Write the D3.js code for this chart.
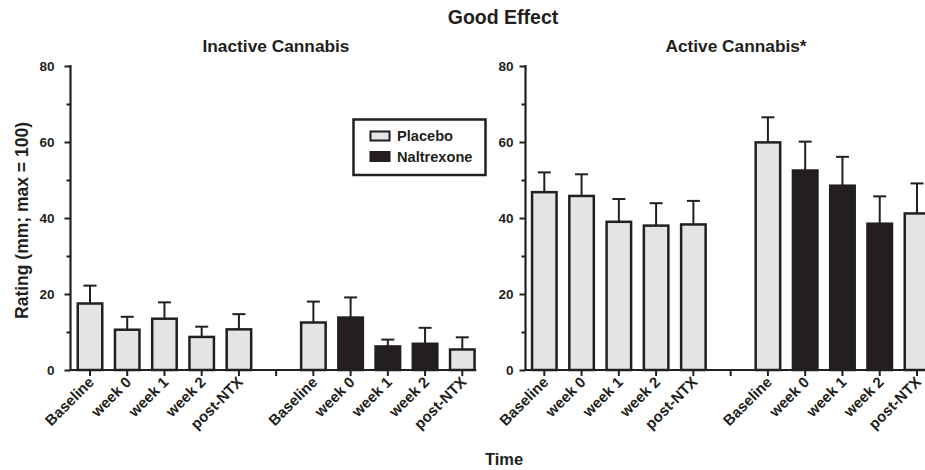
<!DOCTYPE html>
<html>
<head>
<meta charset="utf-8">
<script src="https://cdn.jsdelivr.net/npm/d3@7"></script>
<style>
  html, body { margin: 0; padding: 0; background: #fff; }
  svg { display: block; }
  text { font-family: "Liberation Sans", Arial, Helvetica, sans-serif; font-weight: bold; fill: #231f20; }
</style>
</head>
<body>
<svg id="chart" width="925" height="470"></svg>
<script>
// Time points within each arm
const timepoints = ["Baseline", "week 0", "week 1", "week 2", "post-NTX"];
// Condition of each bar in the naltrexone arm (placebo before/after dosing)
const ntxArmCondition = ["Placebo", "Naltrexone", "Naltrexone", "Naltrexone", "Placebo"];
const legendLabels = ["Placebo", "Naltrexone"];
const yTicks = [0, 20, 40, 60, 80];
const yMinorTicks = [10, 30, 50, 70];

// Inactive cannabis: mean ratings and SEM
const inactivePlaceboMean = [17.5, 10.6, 13.5, 8.7, 10.7];
const inactivePlaceboSem  = [4.7, 3.4, 4.3, 2.7, 4.0];
const inactiveNtxMean     = [12.5, 13.8, 6.2, 6.9, 5.4];
const inactiveNtxSem      = [5.5, 5.3, 1.8, 4.2, 3.2];

// Active cannabis: mean ratings and SEM
const activePlaceboMean = [46.8, 45.8, 39.0, 38.0, 38.3];
const activePlaceboSem  = [5.2, 5.7, 6.0, 5.9, 6.2];
const activeNtxMean     = [59.9, 52.5, 48.5, 38.5, 41.2];
const activeNtxSem      = [6.6, 7.6, 7.6, 7.2, 7.9];

const INK = "#231f20";
const GREY = "#e3e4e6";
const colour = d3.scaleOrdinal().domain(legendLabels).range([GREY, INK]);

const svg = d3.select("#chart");

// slot keys: placebo arm, an empty gap slot, naltrexone arm
const slots = timepoints.map((t, i) => "P" + i)
  .concat(["gap"])
  .concat(timepoints.map((t, i) => "N" + i));

function rows(pMean, pSem, nMean, nSem) {
  const a = timepoints.map((t, i) => ({ slot: "P" + i, label: t, mean: pMean[i], sem: pSem[i], cond: "Placebo" }));
  const b = timepoints.map((t, i) => ({ slot: "N" + i, label: t, mean: nMean[i], sem: nSem[i], cond: ntxArmCondition[i] }));
  return a.concat(b);
}

const panels = [
  { title: "Inactive Cannabis", titleX: 276, axisX: 70.5, range: [90, 462.3], labelPad: 10,
    data: rows(inactivePlaceboMean, inactivePlaceboSem, inactiveNtxMean, inactiveNtxSem) },
  { title: "Active Cannabis*", titleX: 736, axisX: 525.5, range: [544.3, 917], labelPad: 6,
    data: rows(activePlaceboMean, activePlaceboSem, activeNtxMean, activeNtxSem) }
];

const y = d3.scaleLinear().domain([0, 80]).range([370, 66]);
const barW = 24.5, capW = 13;

panels.forEach(p => {
  const x = d3.scalePoint().domain(slots).range(p.range);
  const g = svg.append("g");

  // panel title
  g.append("text").attr("x", p.titleX).attr("y", 51.5)
    .attr("text-anchor", "middle").style("font-size", "17.3px").text(p.title);

  // error bars (drawn first so the bar outline covers their base)
  const eb = g.append("g").attr("stroke", INK).attr("stroke-width", 2).attr("fill", "none");
  eb.selectAll("line.v").data(p.data).join("line").attr("class", "v")
    .attr("x1", d => x(d.slot)).attr("x2", d => x(d.slot))
    .attr("y1", d => y(d.mean)).attr("y2", d => y(d.mean + d.sem));
  eb.selectAll("line.c").data(p.data).join("line").attr("class", "c")
    .attr("x1", d => x(d.slot) - capW / 2).attr("x2", d => x(d.slot) + capW / 2)
    .attr("y1", d => y(d.mean + d.sem)).attr("y2", d => y(d.mean + d.sem));

  // bars
  g.append("g").selectAll("rect").data(p.data).join("rect")
    .attr("x", d => x(d.slot) - barW / 2).attr("width", barW)
    .attr("y", d => y(d.mean)).attr("height", d => y(0) - y(d.mean))
    .attr("fill", d => colour(d.cond)).attr("stroke", INK).attr("stroke-width", 2.5);

  // y axis: major ticks with labels, minor ticks without
  const yAxis = g.append("g").attr("transform", `translate(${p.axisX},0)`)
    .call(d3.axisLeft(y).tickValues(yTicks).tickSize(6).tickPadding(p.labelPad).tickSizeOuter(0))
    .attr("font-size", null).attr("font-family", null);
  g.append("g").attr("transform", `translate(${p.axisX},0)`)
    .call(d3.axisLeft(y).tickValues(yMinorTicks).tickSize(4).tickFormat(""))
    .call(a => a.select(".domain").remove());
  yAxis.select(".domain").attr("d", `M0,${y(0) + 1}V${y(80) - 1}`);
  svg.selectAll(".tick line").attr("stroke", INK).attr("stroke-width", 2);
  yAxis.selectAll("text").style("font-size", "13.5px").attr("fill", INK);
  yAxis.select(".domain").attr("stroke", INK).attr("stroke-width", 2.2);

  // x axis baseline and slot ticks
  const xa = g.append("g").attr("transform", `translate(0,${y(0)})`);
  xa.append("line").attr("x1", p.axisX - 1).attr("x2", p.range[1] + 14)
    .attr("stroke", INK).attr("stroke-width", 2.2);
  xa.selectAll("line.t").data(slots).join("line").attr("class", "t")
    .attr("x1", d => x(d)).attr("x2", d => x(d)).attr("y1", 0).attr("y2", 6)
    .attr("stroke", INK).attr("stroke-width", 2);
  xa.selectAll("text").data(p.data).join("text")
    .attr("text-anchor", "end")
    .attr("transform", d => `translate(${x(d.slot) + 5},${13}) rotate(-45)`)
    .style("font-size", "15px").text(d => d.label);
});

// figure title and shared axis titles
svg.append("text").attr("x", 503).attr("y", 24).attr("text-anchor", "middle")
  .style("font-size", "19.5px").text("Good Effect");
svg.append("text").attr("x", 504).attr("y", 465).attr("text-anchor", "middle")
  .style("font-size", "16.5px").text("Time");
svg.append("text").attr("transform", "translate(27.5,220.5) rotate(-90)")
  .attr("text-anchor", "middle").style("font-size", "17.5px").text("Rating (mm; max = 100)");

// legend
const lg = svg.append("g");
lg.append("rect").attr("x", 353.5).attr("y", 119.5).attr("width", 132).attr("height", 55.5)
  .attr("fill", "#fff").attr("stroke", INK).attr("stroke-width", 2.5);
legendLabels.forEach((name, i) => {
  const yy = 131.5 + i * 20.5;
  lg.append("rect").attr("x", 370.5).attr("y", yy).attr("width", 19).attr("height", 9)
    .attr("fill", colour(name)).attr("stroke", INK).attr("stroke-width", 2);
  lg.append("text").attr("x", 397).attr("y", yy + 9.5).style("font-size", "14.6px").text(name);
});
</script>
</body>
</html>
